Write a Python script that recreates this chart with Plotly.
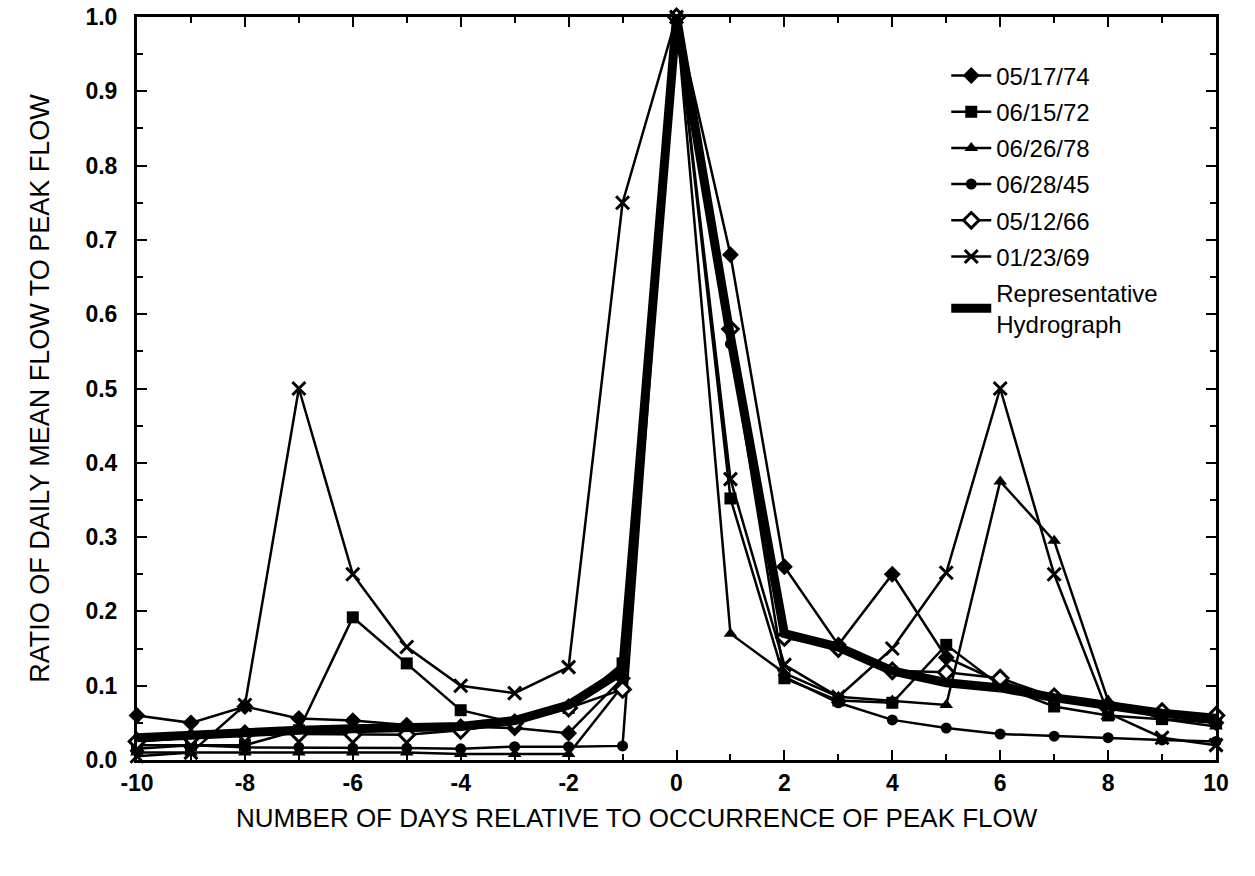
import plotly.graph_objects as go

days = list(range(-10, 11))

s_051774 = [0.060, 0.050, 0.072, 0.056, 0.053, 0.047, 0.045, 0.043, 0.036, 0.110, 1.0,
            0.680, 0.260, 0.155, 0.250, 0.138, 0.105, 0.085, 0.070, 0.060, 0.050]
s_061572 = [0.015, 0.020, 0.020, 0.040, 0.192, 0.130, 0.067, 0.050, 0.070, 0.130, 1.0,
            0.352, 0.110, 0.080, 0.077, 0.155, 0.100, 0.072, 0.060, 0.055, 0.050]
s_062678 = [0.010, 0.010, 0.010, 0.010, 0.010, 0.010, 0.008, 0.008, 0.008, 0.100, 1.0,
            0.170, 0.117, 0.085, 0.080, 0.074, 0.375, 0.295, 0.080, 0.055, 0.045]
s_062845 = [0.020, 0.020, 0.017, 0.017, 0.016, 0.016, 0.015, 0.018, 0.018, 0.019, 1.0,
            0.560, 0.112, 0.077, 0.054, 0.043, 0.035, 0.032, 0.030, 0.027, 0.025]
s_051266 = [0.025, 0.030, 0.035, 0.035, 0.034, 0.034, 0.040, 0.050, 0.070, 0.095, 1.0,
            0.580, 0.165, 0.150, 0.120, 0.118, 0.110, 0.085, 0.070, 0.065, 0.060]
s_012369 = [0.005, 0.010, 0.074, 0.500, 0.250, 0.152, 0.100, 0.090, 0.125, 0.750, 1.0,
            0.378, 0.128, 0.085, 0.150, 0.252, 0.500, 0.250, 0.063, 0.030, 0.020]
s_rep = [0.030, 0.034, 0.038, 0.040, 0.042, 0.043, 0.045, 0.053, 0.074, 0.120, 1.0,
         0.570, 0.170, 0.152, 0.120, 0.104, 0.097, 0.084, 0.072, 0.063, 0.056]

x_ticks = [-10, -8, -6, -4, -2, 0, 2, 4, 6, 8, 10]
y_ticks = [0.0, 0.1, 0.2, 0.3, 0.4, 0.5, 0.6, 0.7, 0.8, 0.9, 1.0]

x_title = "NUMBER OF DAYS RELATIVE TO OCCURRENCE OF PEAK FLOW"
y_title = "RATIO OF DAILY MEAN FLOW TO PEAK FLOW"

series = [
    ("05/17/74", s_051774, dict(symbol="diamond", size=13, color="black")),
    ("06/15/72", s_061572, dict(symbol="square", size=12, color="black")),
    ("06/26/78", s_062678, dict(symbol="triangle-up", size=12, color="black")),
    ("06/28/45", s_062845, dict(symbol="circle", size=11, color="black")),
    ("05/12/66", s_051266, dict(symbol="diamond", size=12, color="white",
                                line=dict(color="black", width=3))),
    ("01/23/69", s_012369, dict(symbol="x-thin", size=13,
                                line=dict(color="black", width=3))),
]

fig = go.Figure()
for i, (name, vals, mk) in enumerate(series):
    fig.add_trace(go.Scatter(
        x=days, y=vals, name=name, mode="lines+markers",
        line=dict(color="black", width=2.5), marker=mk,
        cliponaxis=False, legendgroup=f"g{i}"))

fig.add_trace(go.Scatter(
    x=days, y=s_rep, name="Representative<br>Hydrograph", mode="lines",
    line=dict(color="black", width=9), legendgroup="grep"))

font_family = "Liberation Sans, Arial, sans-serif"

fig.update_layout(
    width=1255, height=876,
    margin=dict(l=137, r=39, t=17, b=116),
    paper_bgcolor="white", plot_bgcolor="white",
    font=dict(family=font_family, color="black"),
    showlegend=True,
    legend=dict(x=0.75, y=0.951, xanchor="left", yanchor="top",
                bgcolor="rgba(0,0,0,0)", font=dict(size=24, color="black"),
                tracegroupgap=2, itemwidth=40),
    annotations=[dict(text=x_title, xref="paper", yref="paper",
                      x=0.463, y=-0.078, xanchor="center", yanchor="middle",
                      showarrow=False, font=dict(size=26, color="black"))],
)

fig.update_xaxes(
    range=[-10, 10], tickvals=x_ticks, ticktext=[str(v) for v in x_ticks],
    ticks="inside", ticklen=10, tickwidth=2, tickcolor="black",
    minor=dict(dtick=1, ticks="inside", ticklen=6, tickwidth=2, tickcolor="black"),
    showline=True, linecolor="black", linewidth=3, mirror="ticks",
    showgrid=False, zeroline=False, automargin=False,
    ticklabeloverflow="allow",
    tickfont=dict(size=23, family=font_family, weight="bold"),
)
fig.update_yaxes(
    range=[0, 1], tickvals=y_ticks, ticktext=[f"{v:.1f}" for v in y_ticks],
    ticks="inside", ticklen=10, tickwidth=2, tickcolor="black",
    minor=dict(dtick=0.05, ticks="inside", ticklen=6, tickwidth=2, tickcolor="black"),
    showline=True, linecolor="black", linewidth=3, mirror="ticks",
    showgrid=False, zeroline=False, automargin=False,
    ticklabelstandoff=12, ticklabeloverflow="allow",
    tickfont=dict(size=23, family=font_family, weight="bold"),
    title=dict(text=y_title, font=dict(size=27), standoff=28),
)

fig.write_html("out.html", config={"displayModeBar": False},
               post_script="document.body.style.margin='0px';")
